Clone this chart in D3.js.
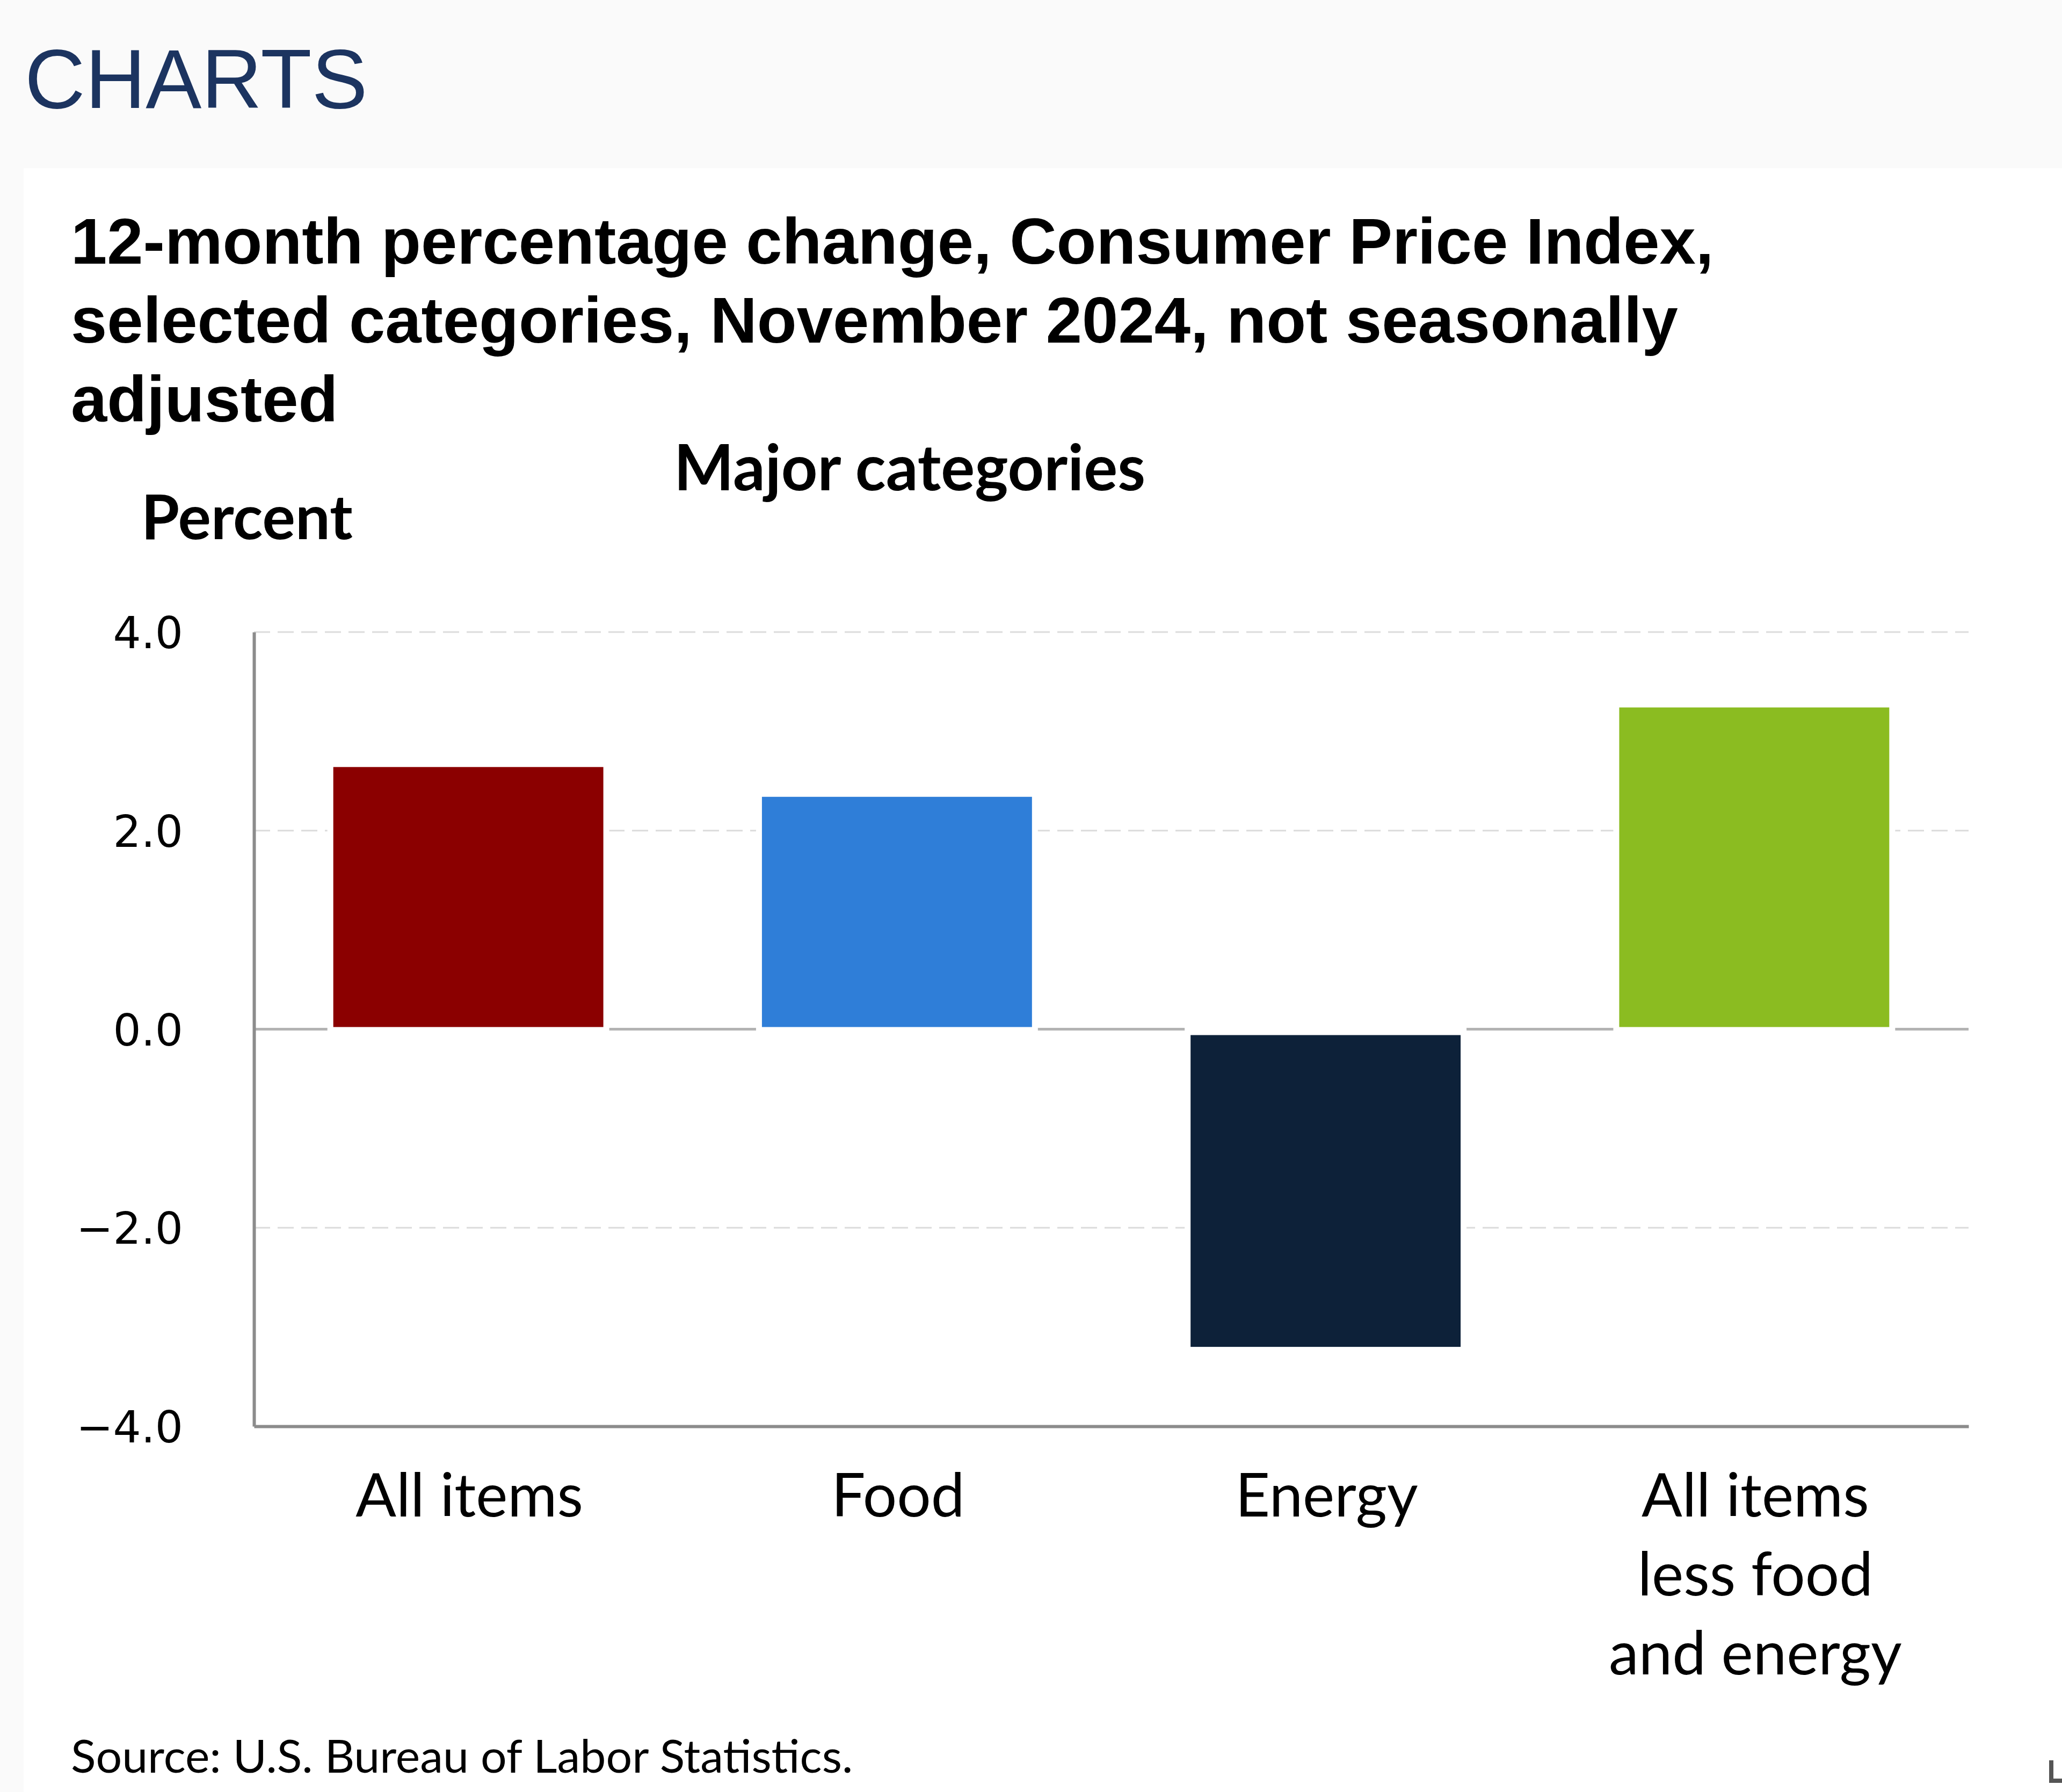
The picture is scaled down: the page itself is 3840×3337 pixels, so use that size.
<!DOCTYPE html>
<html>
<head>
<meta charset="utf-8">
<script src="https://cdn.jsdelivr.net/npm/d3@7"></script>
<style>
  html, body { margin: 0; padding: 0; background: #fafafa; }
  svg { display: block; }
</style>
</head>
<body>
<svg id="chart" width="3840" height="3337"></svg>
<script>
// ---- Data ----
const categories = ["All items", "Food", "Energy", "All items less food and energy"];
const categoryLines = [["All items"], ["Food"], ["Energy"], ["All items", "less food", "and energy"]];
const values = [2.7, 2.4, -3.2, 3.3];
const barColors = ["#8b0000", "#2f7ed8", "#0d2139", "#8bbc21"];
const yTicks = [-4, -2, 0, 2, 4];
const titleLines = [
  "12-month percentage change, Consumer Price Index,",
  "selected categories, November 2024, not seasonally",
  "adjusted"
];

const W = 3840, H = 3337;
const svg = d3.select("#chart");

// page background and white panel
svg.append("rect").attr("x", 0).attr("y", 0).attr("width", W).attr("height", H).attr("fill", "#fafafa");
svg.append("rect").attr("x", 44).attr("y", 313).attr("width", W - 44).attr("height", H - 313).attr("fill", "#ffffff");

// header
svg.append("text").attr("x", 46).attr("y", 201)
  .attr("font-family", "'Liberation Sans', Arial, sans-serif")
  .attr("font-size", 156).attr("fill", "#1c3460")
  .text("CHARTS");

// title
const title = svg.append("text")
  .attr("font-family", "'Liberation Sans', Arial, sans-serif")
  .attr("font-weight", "bold").attr("font-size", 121).attr("fill", "#000");
titleLines.forEach((t, i) => {
  title.append("tspan").attr("x", 132).attr("y", 491 + i * 147).text(t);
});

const calibri = "Lato, 'Open Sans', sans-serif";

svg.append("text").attr("x", 1694).attr("y", 913).attr("text-anchor", "middle")
  .attr("font-family", calibri).attr("font-weight", "bold").attr("font-size", 118)
  .text("Major categories");

svg.append("text").attr("x", 263).attr("y", 1004)
  .attr("font-family", calibri).attr("font-weight", "bold").attr("font-size", 115)
  .text("Percent");

// scales
const x = d3.scaleBand().domain(categories).range([473, 3666]).paddingInner(0.37).paddingOuter(0.185);
const y = d3.scaleLinear().domain([-4, 4]).range([2656, 1177]);

// gridlines (dashed, except zero)
svg.append("g").selectAll("line").data(yTicks.filter(d => d !== 0 && d !== -4)).join("line")
  .attr("x1", 473).attr("x2", 3666)
  .attr("y1", d => y(d)).attr("y2", d => y(d))
  .attr("stroke", "#dcdcdc").attr("stroke-width", 3)
  .attr("stroke-dasharray", "30,14");

// zero line
svg.append("line").attr("x1", 473).attr("x2", 3666)
  .attr("y1", y(0)).attr("y2", y(0))
  .attr("stroke", "#b3b3b3").attr("stroke-width", 5);

// bar halos (white gap around bars)
const pad = 11;
svg.append("g").selectAll("rect").data(values).join("rect")
  .attr("x", (d, i) => x(categories[i]) - pad)
  .attr("width", x.bandwidth() + 2 * pad)
  .attr("y", d => Math.min(y(d), y(0)) - pad)
  .attr("height", d => Math.abs(y(d) - y(0)) + 2 * pad)
  .attr("fill", "#ffffff");

// bars (top edge slightly inset, as rendered in the original)
const inset = 11;
svg.append("g").selectAll("rect").data(values).join("rect")
  .attr("x", (d, i) => x(categories[i]))
  .attr("width", x.bandwidth())
  .attr("y", d => Math.min(y(d), y(0)) + inset)
  .attr("height", d => Math.abs(y(d) - y(0)) - inset - (d >= 0 ? 4 : 0))
  .attr("fill", (d, i) => barColors[i]);

// axes lines
const yAxis = svg.append("g").attr("transform", "translate(473,0)")
  .call(d3.axisLeft(y).tickValues(yTicks).tickSize(0).tickPadding(132)
    .tickFormat(d => d3.format(".1f")(d).replace("-", "\u2212")));
yAxis.select(".domain").attr("stroke", "#8c8c8c").attr("stroke-width", 6);
yAxis.selectAll("text").attr("font-family", "'DejaVu Sans', Verdana, sans-serif")
  .attr("font-size", 82).attr("fill", "#000").attr("dy", "0.36em");

const xAxis = svg.append("g").attr("transform", `translate(0,${y(-4)})`)
  .call(d3.axisBottom(x).tickSize(0).tickFormat(""));
xAxis.select(".domain").attr("stroke", "#8c8c8c").attr("stroke-width", 6);

// x labels
const lab = svg.append("g");
categoryLines.forEach((lines, i) => {
  const t = lab.append("text").attr("text-anchor", "middle")
    .attr("font-family", calibri).attr("font-size", 112).attr("fill", "#000");
  lines.forEach((l, j) => {
    t.append("tspan").attr("x", x(categories[i]) + x.bandwidth() / 2 + 2).attr("y", 2824 + j * 147).text(l);
  });
});

// source
svg.append("text").attr("x", 132).attr("y", 3301)
  .attr("font-family", calibri).attr("font-size", 86).attr("fill", "#000")
  .text("Source: U.S. Bureau of Labor Statistics.");

// cropped UI fragment at bottom-right edge (drawn as a shape)
svg.append("path")
  .attr("d", "M3816,3278 h8 v34 h16 v8 h-24 Z")
  .attr("fill", "#555");
</script>
</body>
</html>
